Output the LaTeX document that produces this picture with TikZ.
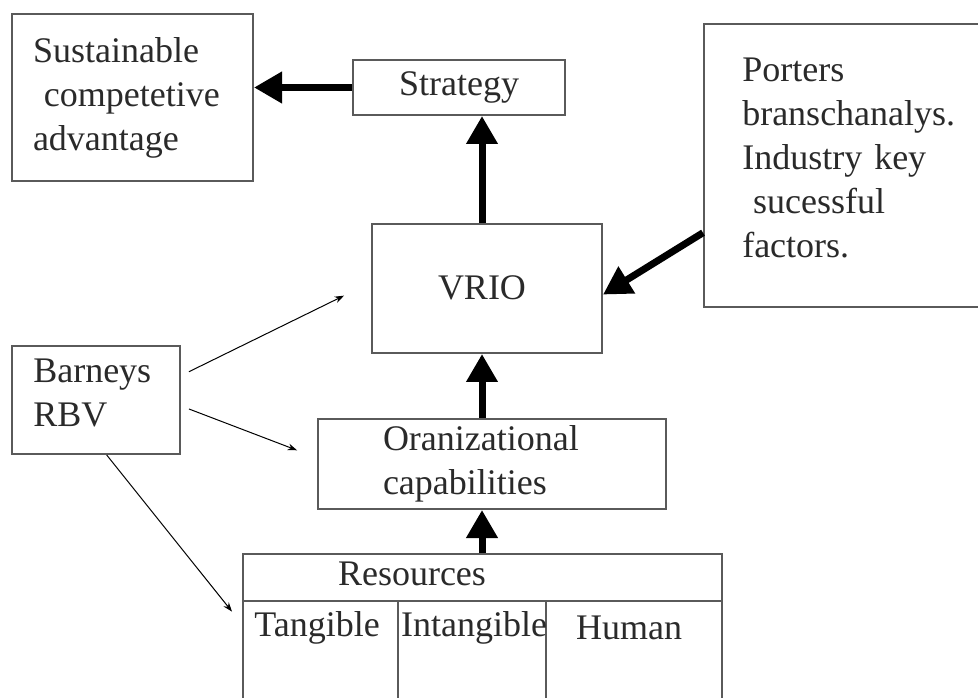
\documentclass[tikz,border=0pt]{standalone}
\usepackage{fontspec}
\setmainfont{Liberation Serif}
\usetikzlibrary{arrows.meta}
\definecolor{boxgray}{HTML}{5A5A5A}
\definecolor{txt}{HTML}{2A2A2A}
\begin{document}
\begin{tikzpicture}[x=0.75pt,y=-0.75pt,
  box/.style={draw=boxgray, line width=1.5pt, rectangle, inner sep=0pt,
    font=\fontsize{27}{33}\selectfont, text=txt},
  lbl/.style={inner sep=0pt, font=\fontsize{27}{33}\selectfont, text=txt},
  tabline/.style={draw=boxgray, line width=1.5pt},
  bigarrow/.style={draw=black, line width=5.25pt, -{Triangle[length=21pt,width=22.5pt]}},
  thinarrow/.style={draw=black, line width=0.75pt, -{Stealth[length=7pt,width=5pt]}}]
\useasboundingbox (0,0) rectangle (978,698);
\clip (0,0) rectangle (978,698);
\fill[white] (0,0) rectangle (978,698);

% boxes
\node[box, anchor=north west, minimum width=180.75pt, minimum height=125.25pt,
  text width=149.25pt, inner xsep=15.75pt, align=left] (sus) at (11,13)
  {Sustainable\\\hspace*{0.3em}competetive\\advantage};
\node[box, minimum width=159pt, minimum height=41.25pt] (strat) at (459,87.5) {Strategy};
\node[box, minimum width=172.5pt, minimum height=96.75pt] (vrio) at (487,288.5) {};
\node[lbl] (vriotext) at (482,288) {VRIO};
\node[box, anchor=north west, minimum width=225pt, minimum height=212.25pt] (port) at (703,23) {};
\node[lbl, anchor=west, text width=166.5pt, align=left] (porttext) at (742,158)
  {Porters\\branschanalys.\\Industry key\\\hspace*{0.3em}sucessful\\factors.};
\node[box, anchor=north west, minimum width=126pt, minimum height=81pt] (barn) at (11,345) {};
\node[lbl, anchor=west, text width=93pt, align=left] (barntext) at (33,393)
  {Barneys\\RBV};
\node[box, anchor=north west, minimum width=261pt, minimum height=67.5pt,
  text width=163.5pt, inner xsep=48.75pt, align=left] (org) at (317,418)
  {Oranizational\\capabilities};
\node[box, anchor=north west, minimum width=359.25pt, minimum height=117.75pt] (res) at (242,553) {};

% resources table
\draw[tabline] ([yshift=-36pt]res.north west) -- ([yshift=-36pt]res.north east);
\draw[tabline] (398,601) -- (398,710);
\draw[tabline] (546,601) -- (546,710);
\node[lbl] (restitle) at (412,574) {Resources};
\node[lbl] (tang) at (317,628) {Tangible};
\node[lbl] (intang) at (474,628) {Intangible};
\node[lbl] (hum) at (629,628) {Human};

% thick arrows
\coordinate (spine) at (482,0);
\draw[bigarrow] (strat.west) -- (strat.west -| sus.east);
\draw[bigarrow] (vrio.north -| spine) -- (strat.south -| spine);
\draw[bigarrow] (org.north -| spine) -- (vrio.south -| spine);
\draw[bigarrow] (res.north -| spine) -- (org.south -| spine);
\draw[bigarrow] (port.204.5) -- (vrio.-3.2);

% thin arrows
\draw[thinarrow, shorten <=6.6pt, shorten >=22.5pt] (barn.16.1) -- (vrio.177.8);
\draw[thinarrow, shorten <=6.4pt, shorten >=16pt] (barn.-4.0) -- (org.178.6);
\draw[thinarrow, shorten >=12pt] (barn.-79.5) -- (res.178.3);
\end{tikzpicture}
\end{document}
